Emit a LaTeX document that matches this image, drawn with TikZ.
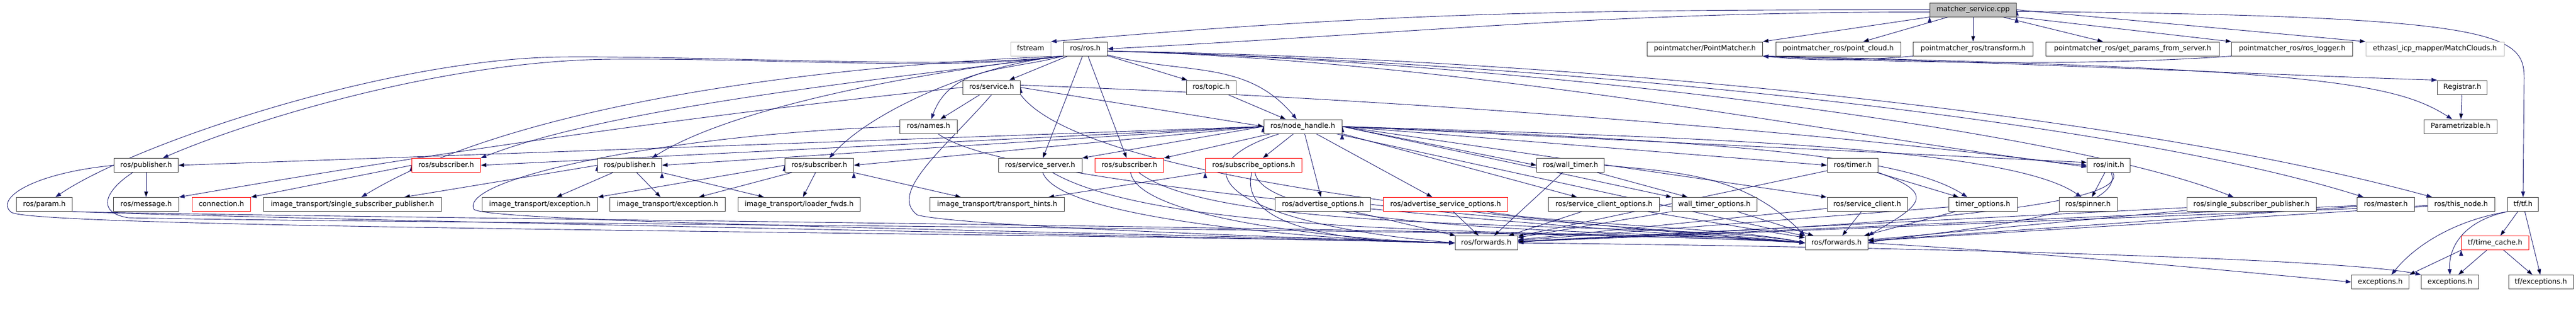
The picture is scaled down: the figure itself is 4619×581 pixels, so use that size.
\documentclass[tikz,border=0pt]{standalone}
\usepackage{fontspec}
\setmainfont{DejaVu Sans}
\usetikzlibrary{arrows.meta,backgrounds}

\definecolor{edgeblue}{HTML}{191970}
\definecolor{boxline}{HTML}{404040}
\definecolor{rootfill}{HTML}{BFBFBF}
\definecolor{missline}{HTML}{BFBFBF}

\tikzset{
  hdr/.style={draw=boxline,line width=1pt,fill=white,minimum height=25pt,inner sep=0pt,
    text height=9.5pt,text depth=3pt,font=\fontsize{12.6}{15}\selectfont},
  trunc/.style={hdr,draw=red},
  notfound/.style={hdr,draw=missline},
  srcfile/.style={hdr,fill=rootfill},
  inc/.style={->,draw=edgeblue,line width=0.9pt},
}

\begin{document}
\begin{tikzpicture}[x=1pt,y=-1pt,>={Triangle[length=10pt,width=7pt]}]
  \useasboundingbox (0,0) rectangle (4619,581);

  \node[srcfile,minimum width=155pt]  (MS)   at (3538,17.5)  {matcher\_service.cpp};

  \node[notfound,minimum width=72pt]  (FST)  at (1848,87.5)  {fstream};
  \node[hdr,minimum width=79pt]       (ROS)  at (1946,87.5)  {ros/ros.h};
  \node[hdr,minimum width=207pt]      (PM)   at (3057,87.5)  {pointmatcher/PointMatcher.h};
  \node[hdr,minimum width=224pt]      (PCL)  at (3296,87.5)  {pointmatcher\_ros/point\_cloud.h};
  \node[hdr,minimum width=215pt]      (TRF)  at (3538,87.5)  {pointmatcher\_ros/transform.h};
  \node[hdr,minimum width=311pt]      (GPS)  at (3824,87.5)  {pointmatcher\_ros/get\_params\_from\_server.h};
  \node[hdr,minimum width=217pt]      (LOG)  at (4110,87.5)  {pointmatcher\_ros/ros\_logger.h};
  \node[notfound,minimum width=248pt] (MC)   at (4366,87.5)  {ethzasl\_icp\_mapper/MatchClouds.h};

  \node[hdr,minimum width=103pt]      (SRV)  at (1778,156.5) {ros/service.h};
  \node[hdr,minimum width=89pt]       (TOP)  at (2171.5,156.5) {ros/topic.h};
  \node[hdr,minimum width=89pt]       (REG)  at (4415,156.5) {Registrar.h};

  \node[hdr,minimum width=103pt]      (NAM)  at (1665,226.5) {ros/names.h};
  \node[hdr,minimum width=140pt]      (NH)   at (2336,226.5) {ros/node\_handle.h};
  \node[hdr,minimum width=131pt]      (PAR)  at (4412,226.5) {Parametrizable.h};

  \node[hdr,minimum width=115pt]      (PUBA) at (262,296)    {ros/publisher.h};
  \node[trunc,minimum width=123pt]    (SUBA) at (800,296)    {ros/subscriber.h};
  \node[hdr,minimum width=115pt]      (PUBB) at (1129,296)   {ros/publisher.h};
  \node[hdr,minimum width=123pt]      (SUBB) at (1469,296)   {ros/subscriber.h};
  \node[hdr,minimum width=150pt]      (SSV)  at (1865,296)   {ros/service\_server.h};
  \node[trunc,minimum width=123pt]    (SUBC) at (2025,296)   {ros/subscriber.h};
  \node[trunc,minimum width=173pt]    (SOP)  at (2248,296)   {ros/subscribe\_options.h};
  \node[hdr,minimum width=121pt]      (WTM)  at (2816,296)   {ros/wall\_timer.h};
  \node[hdr,minimum width=91pt]       (TIM)  at (3322,296)   {ros/timer.h};
  \node[hdr,minimum width=77pt]       (INI)  at (3781,296)   {ros/init.h};

  \node[hdr,minimum width=100pt]      (PRM)  at (79.5,366)   {ros/param.h};
  \node[hdr,minimum width=117pt]      (MSG)  at (262,366)    {ros/message.h};
  \node[trunc,minimum width=105pt]    (CON)  at (397,366)    {connection.h};
  \node[hdr,minimum width=319pt]      (ISP)  at (632,366)    {image\_transport/single\_subscriber\_publisher.h};
  \node[hdr,minimum width=207pt]      (EXA)  at (968,366)    {image\_transport/exception.h};
  \node[hdr,minimum width=207pt]      (EXB)  at (1197,366)   {image\_transport/exception.h};
  \node[hdr,minimum width=219pt]      (LDF)  at (1433,366)   {image\_transport/loader\_fwds.h};
  \node[hdr,minimum width=241pt]      (THI)  at (1788,366)   {image\_transport/transport\_hints.h};
  \node[hdr,minimum width=171pt]      (ADO)  at (2372,366)   {ros/advertise\_options.h};
  \node[trunc,minimum width=223pt]    (ASO)  at (2592,366)   {ros/advertise\_service\_options.h};
  \node[hdr,minimum width=199pt]      (SCO)  at (2876,366)   {ros/service\_client\_options.h};
  \node[hdr,minimum width=152pt]      (WTO)  at (3074,366)   {wall\_timer\_options.h};
  \node[hdr,minimum width=144pt]      (SCL)  at (3348,366)   {ros/service\_client.h};
  \node[hdr,minimum width=123pt]      (TMO)  at (3555.5,366) {timer\_options.h};
  \node[hdr,minimum width=104pt]      (SPN)  at (3744,366)   {ros/spinner.h};
  \node[hdr,minimum width=232pt]      (SSP)  at (4037,366)   {ros/single\_subscriber\_publisher.h};
  \node[hdr,minimum width=103pt]      (MST)  at (4278,366)   {ros/master.h};
  \node[hdr,minimum width=120pt]      (TND)  at (4413,366)   {ros/this\_node.h};
  \node[hdr,minimum width=55pt]       (TF)   at (4524,366)   {tf/tf.h};

  \node[hdr,minimum width=112pt]      (FWA)  at (2665,435)   {ros/forwards.h};
  \node[hdr,minimum width=112pt]      (FWB)  at (3293,435)   {ros/forwards.h};
  \node[trunc,minimum width=121pt]    (TMC)  at (4474,435)   {tf/time\_cache.h};

  \node[hdr,minimum width=103pt]      (EXC1) at (4268,505)   {exceptions.h};
  \node[hdr,minimum width=103pt]      (EXC2) at (4393,505)   {exceptions.h};
  \node[hdr,minimum width=116pt]      (TFE)  at (4556,505)   {tf/exceptions.h};

  \begin{scope}[on background layer]
  % matcher_service.cpp
  \draw[inc] (MS.west) .. controls (2843,17.5) and (2500,21) .. (FST.north east);
  \draw[inc] ([yshift=-4pt]MS.west) .. controls (2882,21.5) and (2564,57.5) .. (ROS.east);
  \path[inc] (MS.south west) edge (PM.north east);
  \path[inc] (MS) edge (PCL);
  \path[inc] (MS) edge (TRF);
  \path[inc] (MS) edge (GPS);
  \path[inc] (MS.south east) edge (LOG.north west);
  \path[inc] (MS.east) edge (MC.north west);
  \draw[inc] ([yshift=-3pt]MS.east) .. controls (4480,28) and (4526,60) .. (4526,140) -- (TF.north);

  % pointmatcher
  \draw[inc] (TRF.south west) .. controls (3300,112) and (3220,106) .. (PM.south east);
  \draw[inc] (LOG.south west) .. controls (3700,122) and (3300,108) .. (PM.south east);
  \draw[inc] (PM.south east) .. controls (3560,110) and (4071,134) .. (REG.north west);
  \draw[inc] (PM.south east) .. controls (4160,122) and (4297,150) .. ([xshift=-15pt]PAR.north);
  \path[inc] (REG) edge (PAR);

  % ros.h
  \path[inc] (ROS) edge (SRV);
  \path[inc] (ROS) edge (TOP);
  \draw[inc] (ROS) .. controls (2123,135) and (2234,105) .. (NH);
  \draw[inc] (ROS.south west) .. controls (1807,127) and (1705,117) .. (NAM);
  \draw[inc] (ROS.south west) .. controls (1700,125) and (1300,100) .. (1010,102) .. controls (700,104) and (240,257) .. ([xshift=20pt]PRM.north);
  \draw[inc] (ROS.south west) .. controls (1700,128) and (1400,104) .. (1100,106) .. controls (780,108) and (422,226) .. ([xshift=30pt]PUBA.north);
  \draw[inc] (ROS.south west) .. controls (1600,140) and (1100,190) .. (SUBA.north east);
  \draw[inc] (ROS.south west) .. controls (1600,135) and (1300,200) .. ([xshift=40pt]PUBB.north);
  \draw[inc] (ROS.south west) .. controls (1750,115) and (1560,200) .. ([xshift=18pt]SUBB.north);
  \draw[inc] (ROS.south west) .. controls (1400,120) and (900,200) .. ([xshift=16pt]ISP.north);
  \path[inc] (ROS) edge (SSV);
  \path[inc] (ROS) edge (SUBC);
  \draw[inc] ([yshift=-4pt]ROS.east) .. controls (2700,110) and (3440,270) .. (INI.west);
  \draw[inc] ([yshift=-4pt]ROS.east) .. controls (2700,108) and (3700,230) .. ([xshift=-32pt]SSP.north);
  \draw[inc] ([yshift=-4pt]ROS.east) .. controls (2800,112) and (3800,215) .. ([xshift=-40pt]MST.north);
  \draw[inc] ([yshift=-4pt]ROS.east) .. controls (2800,104) and (3800,200) .. ([xshift=-52pt]TND.north);

  % service.h, topic.h, names.h
  \path[inc] (SRV) edge (NAM);
  \path[inc] (SRV.east) edge (NH.west);
  \draw[inc] ([yshift=4pt]SRV.east) .. controls (2600,180) and (3400,250) .. ([yshift=-3pt]INI.west);
  \draw[inc] (SRV.west) .. controls (1258,205) and (789,272) .. (MSG.north east);
  \path[inc] (TOP) edge (NH);
  \draw[inc] (SRV.south) .. controls (1700,260) and (1590,345) .. (1645,385) .. controls (1720,405) and (2300,425) .. (FWA.west);
  \draw[inc] (SRV.south east) .. controls (1950,330) and (2800,400) .. (FWB.west);
  \draw[inc] (NAM.west) .. controls (1200,240) and (820,320) .. (850,375) .. controls (880,400) and (2000,415) .. (FWA.west);
  \draw[inc] (NAM) .. controls (1800,330) and (2700,400) .. (FWB.west);

  % publisher.h, param.h
  \path[inc] (PUBA) edge (MSG);
  \draw[inc] (PUBA.west) .. controls (60,310) and (-10,355) .. (20,380) .. controls (60,410) and (1800,415) .. (FWA.west);
  \draw[inc] ([xshift=-24pt]PUBA.south) .. controls (190,340) and (170,380) .. (230,390) .. controls (700,400) and (2900,410) .. (FWB.west);
  \draw[inc] (PRM.south east) .. controls (600,395) and (2200,425) .. (FWA.west);
  \draw[inc] (PRM.south east) .. controls (700,392) and (2800,408) .. (FWB.west);

  % image_transport
  \path[inc] (SUBA.west) edge (CON.north east);
  \path[inc] (PUBB.west) edge ([xshift=93pt]ISP.north);
  \path[inc] (PUBB) edge (EXA);
  \path[inc] (PUBB) edge (EXB);
  \path[inc] (PUBB.south east) edge ([xshift=-63pt]LDF.north);
  \path[inc] (SUBB.west) edge (EXA.north east);
  \path[inc] (SUBB) edge ([xshift=56pt]EXB.north);
  \path[inc] (SUBB) edge (LDF);
  \path[inc] (SUBB.south east) edge ([xshift=-65pt]THI.north);
  \path[inc] (SOP.south west) edge ([xshift=92pt]THI.north);

  % node_handle.h
  \path[inc] (NH.west) edge (PUBA.east);
  \path[inc] (NH.west) edge (SUBA.east);
  \path[inc] (NH.west) edge (PUBB.east);
  \path[inc] (NH.west) edge (SUBB.east);
  \path[inc] (NH.west) edge (SSV.north east);
  \path[inc] (NH) edge (SUBC.north east);
  \path[inc] (NH) edge (SOP);
  \path[inc] (NH) edge (ADO);
  \path[inc] (NH) edge (ASO);
  \path[inc] (NH.east) edge (WTM.west);
  \path[inc] (NH.south east) edge (SCO);
  \path[inc] (NH.east) edge (WTO.north west);
  \path[inc] (NH.east) edge (SCL.north west);
  \path[inc] (NH.east) edge (TIM.west);
  \draw[inc] (NH.east) .. controls (3000,250) and (3400,270) .. ([xshift=-28pt]TMO.north);
  \draw[inc] (NH.east) .. controls (3000,245) and (3600,260) .. ([xshift=-12pt]SPN.north);
  \path[inc] (NH.east) edge ([yshift=5pt]INI.west);
  \draw[inc] (NH) .. controls (2100,300) and (2200,400) .. (FWA.west);
  \path[inc] (NH) edge (FWB);

  % forwards.h
  \draw[inc] (SSV) .. controls (1905,406) and (2506,435) .. (FWA.west);
  \draw[inc] (SSV) .. controls (2115,441) and (2974,407) .. (FWB.west);
  \draw[inc] (SUBC) .. controls (2044,404) and (2513,435) .. (FWA.west);
  \draw[inc] (SUBC) .. controls (2200,430) and (3002,390) .. (FWB.west);
  \draw[inc] (SOP) .. controls (2214,425) and (2489,435) .. (FWA.west);
  \draw[inc] (SOP) .. controls (2270,424) and (3004,411) .. (FWB.west);
  \path[inc] (ADO) edge (FWA);
  \draw[inc] (ADO.east) .. controls (2652,390) and (3043,414) .. (FWB.west);
  \path[inc] (ASO) edge (FWA);
  \draw[inc] (ASO) .. controls (2797,402) and (3103,407) .. (FWB.west);
  \path[inc] (WTM) edge (FWA);
  \path[inc] (WTM) edge (WTO);
  \draw[inc] (WTM.east) .. controls (3025,309) and (3131,317) .. (FWB.north west);
  \path[inc] (SCO) edge (FWA);
  \path[inc] (SCO) edge (FWB);
  \path[inc] (WTO) edge (FWA);
  \path[inc] (WTO) edge (FWB);
  \path[inc] (SCL) edge (FWA);
  \path[inc] (SCL) edge (FWB);
  \path[inc] (TIM) edge (TMO);
  \path[inc] (TIM) edge (FWA);
  \draw[inc] (TIM.south east) .. controls (3473,347) and (3446,367) .. (FWB.north east);
  \path[inc] (TMO) edge (FWA);
  \path[inc] (TMO) edge (FWB);
  \path[inc] (INI) edge (SPN);
  \draw[inc] (INI) .. controls (3840,400) and (2826,421) .. (FWA.east);
  \draw[inc] (INI) .. controls (3816,393) and (3437,418) .. (FWB.east);
  \path[inc] (SSP) edge (FWA);
  \path[inc] (SSP) edge (FWB);
  \path[inc] (MST) edge (FWA);
  \path[inc] (MST) edge (FWB);
  \path[inc] (TND) edge (FWA);
  \path[inc] (TND) edge (FWB);
  \draw[inc] (FWB.east) .. controls (3700,455) and (4050,490) .. (EXC1.west);
  \draw[inc] (FWA.east) .. controls (3400,442) and (4200,462) .. (EXC2.north west);

  % tf
  \path[inc] (TF) edge (TMC);
  \path[inc] (TF) edge ([xshift=-1pt]TFE.north);
  \draw[inc] (TF.south west) .. controls (4420,395) and (4390,440) .. (EXC2.north);
  \draw[inc] (TF.south west) .. controls (4400,395) and (4330,440) .. ([xshift=20pt]EXC1.north);
  \path[inc] (TMC.south west) edge (EXC1.north east);
  \path[inc] (TMC) edge (EXC2);
  \path[inc] (TMC) edge (TFE);
  \end{scope}

\end{tikzpicture}
\end{document}
